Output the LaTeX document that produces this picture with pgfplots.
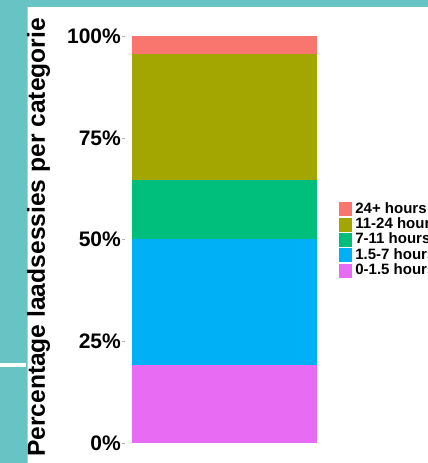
\documentclass[border=0pt]{standalone}
\usepackage{pgfplots}
\pgfplotsset{compat=1.18}
\usepackage{fontspec}
\setmainfont{Liberation Sans}
\definecolor{c24}{HTML}{F8766D}
\definecolor{c11}{HTML}{A3A500}
\definecolor{c7}{HTML}{00BF7D}
\definecolor{c15}{HTML}{00B0F6}
\definecolor{c0}{HTML}{E76BF3}
\definecolor{bgteal}{RGB}{104,196,196}
\begin{document}
\begin{tikzpicture}
\useasboundingbox (0pt,0pt) rectangle (428pt,463pt);
\clip (0pt,0pt) rectangle (428pt,463pt);
\fill[bgteal] (0pt,0pt) rectangle (428pt,463pt);
\fill[white] (27pt,0pt) rectangle (428pt,456pt);
\fill[white] (0pt,96.3pt) rectangle (26pt,99.7pt);
\draw[gray!45, line width=0.8pt] (27pt,0pt) -- (27pt,456pt);
\begin{axis}[
  scale only axis, width=198.4pt, height=448.1pt,
  at={(125pt,-0.7pt)}, anchor=south west,
  xmin=0.4, xmax=1.6, ymin=-5, ymax=105,
  ybar stacked, bar width=185pt,
  axis x line=none,
  axis y line*=left, y axis line style={draw=none},
  ytick={0,25,50,75,100}, yticklabels={0\%,25\%,50\%,75\%,100\%},
  tick align=outside, major tick length=3pt,
  ytick style={gray!60, line width=0.5pt},
  yticklabel style={font=\fontsize{21}{21}\selectfont\bfseries, inner sep=1pt},
  ylabel={Percentage laadsessies per categorie},
  ylabel style={font=\fontsize{24.6}{24.6}\selectfont\bfseries, at={(axis description cs:-0.436,0.5048)}, anchor=center},
  reverse legend,
  legend style={draw=none, fill=none, inner sep=0pt, outer sep=0pt,
    at={(axis description cs:1.0786,0.4992)}, anchor=west,
    font=\fontsize{15}{15}\selectfont\bfseries, row sep=0pt, column sep=2.5pt,
    nodes={inner sep=0.9pt, text height=10.5pt, text depth=3pt}},
  legend cell align=left,
  sq/.style={draw=none, fill=#1,
    legend image code/.code={\fill[##1] (0pt,-7pt) rectangle (13pt,7pt);}},
]
\addplot[sq=c0] coordinates {(1,19.15)};
\addplot[sq=c15] coordinates {(1,30.95)};
\addplot[sq=c7] coordinates {(1,14.55)};
\addplot[sq=c11] coordinates {(1,30.85)};
\addplot[sq=c24] coordinates {(1,4.5)};
\legend{0-1.5 hours,1.5-7 hours,7-11 hours,11-24 hours,24+ hours}
\end{axis}
\end{tikzpicture}
\end{document}
